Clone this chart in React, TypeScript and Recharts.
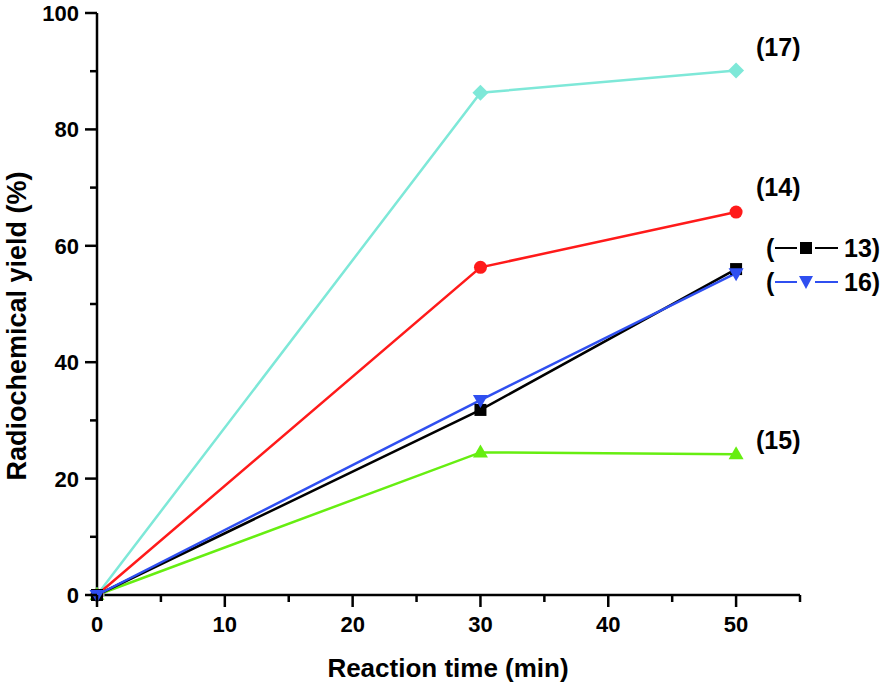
import { LineChart, Line, XAxis, YAxis } from "recharts";

const times = [0, 30, 50];
const yield13 = [0, 31.8, 56.0];
const yield14 = [0, 56.3, 65.8];
const yield15 = [0, 24.5, 24.2];
const yield16 = [0, 33.5, 55.3];
const yield17 = [0, 86.3, 90.1];
const xTicks = [0, 5, 10, 15, 20, 25, 30, 35, 40, 45, 50, 55];
const yTicks = [0, 10, 20, 30, 40, 50, 60, 70, 80, 90, 100];

const data = times.map((t, i) => ({
    t,
    s13: yield13[i],
    s14: yield14[i],
    s15: yield15[i],
    s16: yield16[i],
    s17: yield17[i],
}));

const FONT = "Arial, 'Liberation Sans', sans-serif";

function XTick({ x, y, payload }: any) {
    const major = payload.value % 10 === 0;
    return (
        <g>
            <line x1={x} x2={x} y1={y} y2={y + (major ? 12 : 7)} stroke="#000" strokeWidth={2.5} />
            {major && (
                <text x={x} y={y + 37} textAnchor="middle" fontSize={22} fontWeight="bold" fontFamily={FONT} fill="#000">
                    {payload.value}
                </text>
            )}
        </g>
    );
}

function YTick({ x, y, payload }: any) {
    const major = payload.value % 20 === 0;
    return (
        <g>
            <line x1={x} x2={x - (major ? 12 : 7)} y1={y} y2={y} stroke="#000" strokeWidth={2.5} />
            {major && (
                <text x={x - 18} y={y + 8} textAnchor="end" fontSize={22} fontWeight="bold" fontFamily={FONT} fill="#000">
                    {payload.value}
                </text>
            )}
        </g>
    );
}

const Square = (color: string) => (p: any) => (
    <rect key={p.index} x={p.cx - 6} y={p.cy - 6} width={12} height={12} fill={color} />
);
const Circle = (color: string) => (p: any) => <circle key={p.index} cx={p.cx} cy={p.cy} r={6.5} fill={color} />;
const Diamond = (color: string) => (p: any) => (
    <polygon
        key={p.index}
        points={`${p.cx},${p.cy - 8} ${p.cx + 8},${p.cy} ${p.cx},${p.cy + 8} ${p.cx - 8},${p.cy}`}
        fill={color}
    />
);
const TriUp = (color: string) => (p: any) => (
    <polygon
        key={p.index}
        points={`${p.cx},${p.cy - 8} ${p.cx + 7.5},${p.cy + 5} ${p.cx - 7.5},${p.cy + 5}`}
        fill={color}
    />
);
const TriDown = (color: string) => (p: any) => (
    <polygon
        key={p.index}
        points={`${p.cx},${p.cy + 8} ${p.cx + 7.5},${p.cy - 5} ${p.cx - 7.5},${p.cy - 5}`}
        fill={color}
    />
);

const labelStyle = { fontSize: 25, fontWeight: "bold" as const, fontFamily: FONT, fill: "#000" };

function Annotations() {
    return (
        <svg width={884} height={685} style={{ position: "absolute", left: 0, top: 0, pointerEvents: "none" }}>
            <text x={448} y={677} textAnchor="middle" {...labelStyle} fontSize={26}>Reaction time (min)</text>
            <text x={26} y={326} textAnchor="middle" transform="rotate(-90 26 326)" {...labelStyle} fontSize={27}>
                Radiochemical yield (%)
            </text>
            <text x={756} y={56} {...labelStyle}>(17)</text>
            <text x={756} y={196} {...labelStyle}>(14)</text>
            <text x={756} y={449} {...labelStyle}>(15)</text>
            <text x={766} y={257} {...labelStyle}>(</text>
            <line x1={775} x2={797} y1={248} y2={248} stroke="#000" strokeWidth={2} />
            <rect x={800} y={242} width={12} height={12} fill="#000" />
            <line x1={815} x2={838} y1={248} y2={248} stroke="#000" strokeWidth={2} />
            <text x={844} y={257} {...labelStyle}>13)</text>
            <text x={766} y={291} {...labelStyle}>(</text>
            <line x1={775} x2={797} y1={282} y2={282} stroke="#2f4ff0" strokeWidth={2} />
            <polygon points="799,276 813,276 806,289" fill="#2f4ff0" />
            <line x1={815} x2={838} y1={282} y2={282} stroke="#2f4ff0" strokeWidth={2} />
            <text x={844} y={291} {...labelStyle}>16)</text>
        </svg>
    );
}

export default function App() {
    return (
        <div style={{ position: "absolute", left: 0, top: 0, width: 884, height: 685, background: "#fff" }}>
            <LineChart width={884} height={685} data={data} margin={{ top: 13, right: 84, left: 37, bottom: 30 }}>
                <XAxis
                    dataKey="t"
                    type="number"
                    domain={[0, 55]}
                    ticks={xTicks}
                    interval={0}
                    height={60}
                    tickSize={0}
                    tickMargin={0}
                    tickLine={false}
                    tick={<XTick />}
                    axisLine={{ stroke: "#000", strokeWidth: 2.5 }}
                />
                <YAxis
                    type="number"
                    domain={[0, 100]}
                    ticks={yTicks}
                    interval={0}
                    width={60}
                    tickSize={0}
                    tickMargin={0}
                    tickLine={false}
                    tick={<YTick />}
                    axisLine={{ stroke: "#000", strokeWidth: 2.5 }}
                />
                <Line dataKey="s17" stroke="#7ee8d8" strokeWidth={2.5} dot={Diamond("#7ee8d8")} isAnimationActive={false} />
                <Line dataKey="s14" stroke="#ff1a1a" strokeWidth={2.5} dot={Circle("#ff1a1a")} isAnimationActive={false} />
                <Line dataKey="s15" stroke="#66ee11" strokeWidth={2.5} dot={TriUp("#66ee11")} isAnimationActive={false} />
                <Line dataKey="s13" stroke="#000000" strokeWidth={2.5} dot={Square("#000000")} isAnimationActive={false} />
                <Line dataKey="s16" stroke="#2f4ff0" strokeWidth={2.5} dot={TriDown("#2f4ff0")} isAnimationActive={false} />
            </LineChart>
            <Annotations />
        </div>
    );
}
